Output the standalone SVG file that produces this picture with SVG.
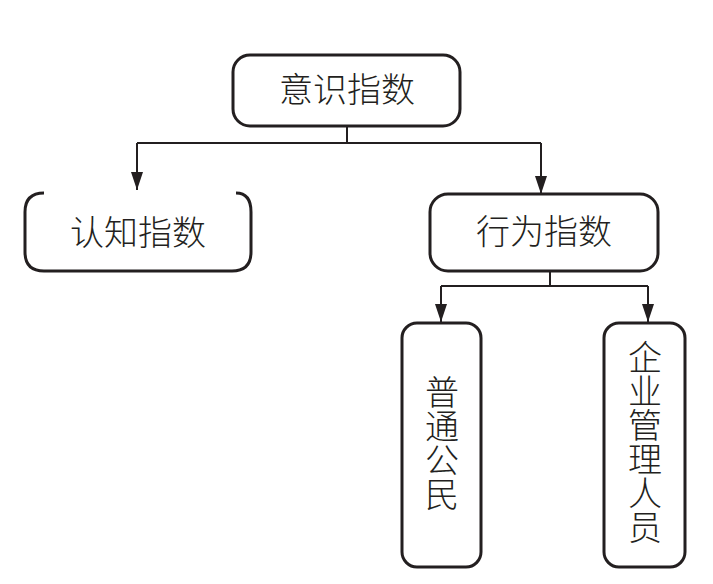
<svg xmlns="http://www.w3.org/2000/svg" width="713" height="584" viewBox="0 0 713 584">
<style>
.box{fill:#fff;stroke:#231f20;stroke-width:3}
.open{fill:none;stroke:#231f20;stroke-width:3}
.t{font-family:"Noto Sans CJK SC","Noto Sans CJK JP",sans-serif;font-size:34px;font-weight:300;fill:#231f20;text-anchor:middle}
.v{writing-mode:vertical-rl}
.ln{fill:none;stroke:#231f20;stroke-width:2}
</style>
<defs>
<marker id="ah" viewBox="0 0 18 12" refX="18" refY="6" markerWidth="18" markerHeight="12" markerUnits="userSpaceOnUse" orient="auto">
<path d="M0 0 L18 6 L0 12 Z" fill="#231f20"/>
</marker>
</defs>
<rect width="713" height="584" fill="#fff"/>
<g id="connectors">
<path class="ln" d="M347 126 V143 M137 143 H541"/>
<path class="ln" d="M137 143 V190" marker-end="url(#ah)"/>
<path class="ln" d="M541 143 V194" marker-end="url(#ah)"/>
<path class="ln" d="M550 271 V286 M441 286 H648"/>
<path class="ln" d="M441 286 V322" marker-end="url(#ah)"/>
<path class="ln" d="M648 286 V322" marker-end="url(#ah)"/>
</g>
<g id="n1">
<rect class="box" x="233" y="55" width="227" height="71" rx="17"/>
<text class="t" x="347" y="102">意识指数</text>
</g>
<g id="n2">
<path class="open" d="M44 193 Q25 193 25 212 V252 Q25 271 44 271 H232 Q251 271 251 252 V212 Q251 193 236 193"/>
<text class="t" x="138" y="245">认知指数</text>
</g>
<g id="n3">
<rect class="box" x="430" y="194" width="228" height="77" rx="18"/>
<text class="t" x="544" y="244">行为指数</text>
</g>
<g id="n4">
<rect class="box" x="402" y="323" width="79" height="244" rx="15"/>
<text class="t v" x="442" y="443">普通公民</text>
</g>
<g id="n5">
<rect class="box" x="604" y="323" width="81" height="244" rx="15"/>
<text class="t v" x="645" y="442">企业管理人员</text>
</g>
</svg>
